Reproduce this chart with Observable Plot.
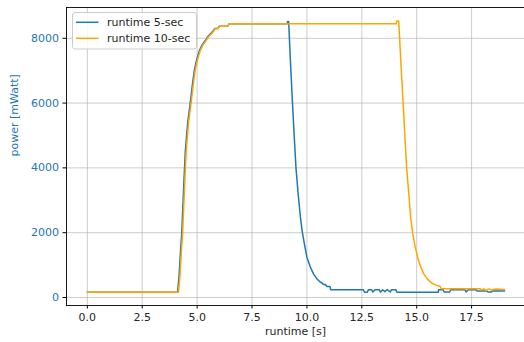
<!DOCTYPE html>
<html>
<head>
<meta charset="utf-8">
<script src="https://cdn.jsdelivr.net/npm/d3@7"></script>
<script src="https://cdn.jsdelivr.net/npm/@observablehq/plot@0.6"></script>
<style>
  body { margin: 0; background: #fff; }
  #chart { position: relative; width: 524px; height: 342px; }
</style>
</head>
<body>
<div id="chart"></div>
<script>
// Series names and colours
const seriesNames = ["runtime 5-sec", "runtime 10-sec"];
const seriesColors = ["#1f77b4", "#ffa500"];

// Power trace of the 5-second run: time [s] and power [mWatt]
const time5 = [
  0, 4.11, 4.18, 4.24, 4.30, 4.38, 4.46, 4.57, 4.69, 4.78, 4.87, 4.98, 5.10, 5.23, 5.37, 5.52,
  5.68, 5.75, 5.80, 5.95, 6.00, 6.40, 6.45,
  9.10, 9.12, 9.17, 9.20, 9.27, 9.34, 9.42, 9.50, 9.60, 9.70, 9.79, 9.90, 10.00, 10.15, 10.30,
  10.45, 10.60, 10.70, 10.75, 10.85, 10.90, 11.05, 11.08, 12.57,
  12.62, 12.75, 12.80, 12.95, 13.00, 13.10, 13.30, 13.35, 13.45, 13.55, 13.65, 13.80, 13.85, 14.05, 14.10,
  15.98, 16.00, 16.20, 16.25, 16.50, 16.55, 17.20, 17.25, 17.35, 17.70, 17.75, 18.20, 18.25, 18.40, 18.45, 19.00
];
const power5 = [
  160, 160, 700, 1400, 2000, 3300, 4500, 5400, 6030, 6550, 7000, 7350, 7620, 7800, 7930, 8080,
  8190, 8240, 8300, 8300, 8370, 8370, 8450,
  8450, 8520, 8520, 8030, 7000, 6030, 5000, 4020, 3200, 2500, 2016, 1600, 1245, 950, 730,
  580, 480, 440, 400, 400, 340, 340, 240, 240,
  165, 165, 240, 240, 170, 240, 240, 165, 240, 180, 240, 170, 240, 240, 160,
  160, 240, 240, 170, 170, 240, 240, 170, 240, 240, 200, 200, 170, 170, 200, 200
];

// Power trace of the 10-second run
const time10 = [
  0, 4.15, 4.22, 4.28, 4.34, 4.42, 4.50, 4.61, 4.73, 4.82, 4.91, 5.02, 5.14, 5.27, 5.41, 5.56,
  5.72, 5.78, 5.82, 5.96, 6.01, 6.40, 6.45,
  14.07, 14.09, 14.18, 14.22, 14.30, 14.38, 14.46, 14.54, 14.64, 14.72, 14.81, 14.92, 15.04, 15.18, 15.32,
  15.50, 15.70, 15.85, 16.07, 16.12, 17.90, 17.95, 18.05, 18.15, 18.30, 18.40, 18.60, 19.00
];
const power10 = [
  160, 160, 700, 1400, 2000, 3300, 4500, 5400, 6030, 6550, 7000, 7350, 7620, 7800, 7930, 8080,
  8190, 8240, 8300, 8300, 8370, 8370, 8450,
  8450, 8530, 8530, 8030, 7000, 6030, 5000, 4020, 3200, 2500, 2016, 1600, 1245, 950, 730,
  560, 441, 390, 340, 268, 268, 230, 268, 220, 268, 230, 260, 250
];

// Axis ticks and titles
const xTicks = [0, 2.5, 5, 7.5, 10, 12.5, 15, 17.5];
const yTicks = [0, 2000, 4000, 6000, 8000];
const xLabel = "runtime [s]";
const yLabel = "power [mWatt]";

const rows = [
  ...time5.map((t, i) => ({series: seriesNames[0], t, p: power5[i]})),
  ...time10.map((t, i) => ({series: seriesNames[1], t, p: power10[i]}))
];

const font = "'DejaVu Sans', sans-serif";
const fontSize = 11;
const gridStyle = {stroke: "#b0b0b0", strokeOpacity: 0.65, strokeWidth: 1};

const chart = Plot.plot({
  width: 524,
  height: 342,
  marginLeft: 66,
  marginRight: 0,
  marginTop: 7,
  marginBottom: 37,
  style: {fontFamily: font, fontSize: fontSize + "px", color: "#262626", background: "#fff", overflow: "hidden"},
  x: {domain: [-0.95, 19.91]},
  y: {domain: [-247, 8950]},
  color: {domain: seriesNames, range: seriesColors},
  marks: [
    Plot.gridX(xTicks, gridStyle),
    Plot.gridY(yTicks, gridStyle),
    Plot.line(rows, {x: "t", y: "p", z: "series", stroke: "series", strokeWidth: 1.5}),
    Plot.axisX(xTicks, {tickSize: 3.5, tickPadding: 4.5, tickFormat: d => d.toFixed(1), label: null, stroke: "#000", fill: "#262626", fontSize}),
    Plot.axisY(yTicks, {tickSize: 3.5, tickFormat: () => "", label: null, stroke: "#000"}),
    Plot.axisY(yTicks, {tickSize: 0, tickPadding: 7.5, tickFormat: d => String(d), label: null, fill: "#1f77b4", fontSize}),
    Plot.frame({anchor: "left", stroke: "#000", strokeWidth: 0.9}),
    Plot.frame({anchor: "bottom", stroke: "#000", strokeWidth: 0.9}),
    Plot.frame({anchor: "top", stroke: "#000", strokeWidth: 0.9}),
    Plot.text([xLabel], {frameAnchor: "bottom", dy: 29, fill: "#262626", fontSize}),
    Plot.text([yLabel], {frameAnchor: "left", dx: -52, rotate: -90, fill: "#1f77b4", fontSize})
  ]
});

// Legend box in the upper-left corner of the plot area
const svg = d3.select(chart);
const legend = svg.append("g")
  .attr("font-family", font)
  .attr("font-size", fontSize)
  .attr("text-anchor", "start");
legend.append("rect")
  .attr("x", 72.5).attr("y", 12.5).attr("width", 124).attr("height", 36.5)
  .attr("rx", 2.5)
  .attr("fill", "#fff").attr("fill-opacity", 0.8)
  .attr("stroke", "#cccccc").attr("stroke-width", 1);
seriesNames.forEach((name, i) => {
  const cy = 22.3 + i * 16;
  legend.append("line")
    .attr("x1", 76).attr("x2", 98.5).attr("y1", cy).attr("y2", cy)
    .attr("stroke", seriesColors[i]).attr("stroke-width", 1.5);
  legend.append("text")
    .attr("x", 107).attr("y", cy).attr("dy", "0.35em")
    .attr("text-anchor", "start")
    .attr("fill", "#262626").text(name);
});

document.getElementById("chart").append(chart);
</script>
</body>
</html>
